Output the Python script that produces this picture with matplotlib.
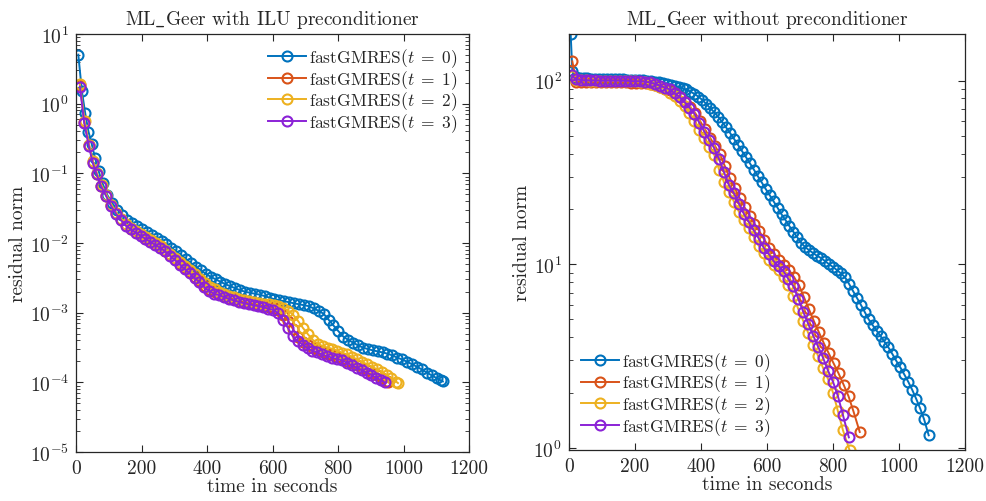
import matplotlib
matplotlib.use("Agg")
import matplotlib.pyplot as plt
from matplotlib.ticker import LogLocator, NullFormatter

plt.rcParams.update({
    "font.family": "serif",
    "font.serif": ["cmr10"],
    "mathtext.fontset": "cm",
    "axes.unicode_minus": False,
    "axes.formatter.use_mathtext": True,
    "text.color": "#262626",
    "axes.labelcolor": "#262626",
    "xtick.color": "#262626",
    "ytick.color": "#262626",
})

# ---------------- data: left panel (ILU preconditioner) ----------------
L0_t = [7, 18, 28, 38, 48, 58, 69, 81, 96, 111, 126, 141, 156, 171, 186, 201, 216, 231, 246, 261,
        276, 291, 306, 321, 336, 351, 366, 381, 396, 411, 426, 441, 456, 471, 486, 501, 516, 531,
        546, 561, 576, 591, 606, 621, 636, 651, 666, 681, 696, 711, 726, 741, 756, 771, 786, 801,
        816, 831, 846, 861, 876, 891, 906, 921, 936, 951, 966, 981, 996, 1011, 1026, 1041, 1056,
        1071, 1086, 1101, 1113, 1120]
L0_r = [5.05, 1.50, 0.73, 0.398, 0.263, 0.166, 0.108, 0.0716, 0.0484, 0.0372, 0.0302, 0.0251,
        0.0216, 0.0191, 0.0174, 0.0158, 0.0145, 0.0132, 0.0119, 0.0107, 0.00955, 0.00851, 0.00764,
        0.00676, 0.00589, 0.00516, 0.00457, 0.00407, 0.00363, 0.00327, 0.00302, 0.00278, 0.00256,
        0.00240, 0.00224, 0.00210, 0.00200, 0.00193, 0.00187, 0.00181, 0.00173, 0.00164, 0.00156,
        0.00151, 0.00146, 0.00141, 0.00136, 0.00132, 0.00128, 0.00124, 0.00115, 0.00106, 0.000964,
        0.000794, 0.000655, 0.000543, 0.000454, 0.000407, 0.000372, 0.000339, 0.000316, 0.000300,
        0.000288, 0.000278, 0.000269, 0.000258, 0.000243, 0.000226, 0.000213, 0.000197, 0.000182,
        0.000167, 0.000153, 0.000138, 0.000126, 0.000115, 0.000107, 0.000103]

L1_t = [12, 25, 40, 52, 63, 77, 92, 108, 123, 138, 153, 168, 183, 198, 213, 228, 243, 258, 273,
        288, 303, 318, 333, 348, 363, 378, 393, 408, 423, 438, 453, 468, 483, 498, 513, 528, 543,
        558, 573, 588, 603, 618, 633, 648, 663, 678, 693, 708, 723, 738, 753, 768, 783, 798, 813,
        828, 843, 858, 873, 888, 903, 918, 933, 948, 953]
L1_r = [1.86, 0.550, 0.251, 0.145, 0.0977, 0.0661, 0.0479, 0.0347, 0.0266, 0.0219, 0.0180, 0.0160,
        0.0143, 0.0129, 0.0116, 0.0106, 0.00955, 0.00871, 0.00776, 0.00668, 0.00582, 0.00507,
        0.00437, 0.00380, 0.00327, 0.00285, 0.00245, 0.00214, 0.00197, 0.00184, 0.00174, 0.00164,
        0.00155, 0.00148, 0.00141, 0.00136, 0.00132, 0.00128, 0.00124, 0.00120, 0.00116, 0.00108,
        0.000933, 0.000759, 0.000575, 0.000447, 0.000380, 0.000339, 0.000309, 0.000288, 0.000272,
        0.000257, 0.000245, 0.000232, 0.000219, 0.000204, 0.000191, 0.000176, 0.000162, 0.000150,
        0.000138, 0.000127, 0.000116, 0.000105, 0.000101]

L2_t = [12, 26, 40, 52, 64, 78, 93, 108, 123, 138, 153, 168, 183, 198, 213, 228, 243, 258, 273,
        288, 303, 318, 333, 348, 363, 378, 393, 408, 423, 438, 453, 468, 483, 498, 513, 528, 543,
        558, 573, 588, 603, 618, 633, 648, 663, 678, 693, 708, 723, 738, 753, 768, 783, 798, 813,
        828, 843, 858, 873, 888, 903, 918, 933, 948, 963, 978, 983]
L2_r = [1.91, 0.562, 0.257, 0.148, 0.100, 0.0676, 0.0490, 0.0355, 0.0272, 0.0224, 0.0186, 0.0166,
        0.0148, 0.0133, 0.0120, 0.0110, 0.0100, 0.00902, 0.00804, 0.00692, 0.00617, 0.00537,
        0.00468, 0.00407, 0.00355, 0.00309, 0.00269, 0.00234, 0.00216, 0.00200, 0.00186, 0.00176,
        0.00166, 0.00158, 0.00151, 0.00146, 0.00141, 0.00136, 0.00133, 0.00131, 0.00129, 0.00124,
        0.00117, 0.00107, 0.000933, 0.000759, 0.000603, 0.000490, 0.000407, 0.000359, 0.000331,
        0.000316, 0.000302, 0.000285, 0.000266, 0.000251, 0.000232, 0.000214, 0.000197, 0.000182,
        0.000168, 0.000155, 0.000143, 0.000127, 0.000114, 0.000102, 0.0000977]

L3_t = [12, 25, 39, 51, 63, 76, 92, 107, 122, 137, 152, 167, 182, 197, 212, 227, 242, 257, 272,
        287, 302, 317, 332, 347, 362, 377, 392, 407, 422, 437, 452, 467, 482, 497, 512, 527, 542,
        557, 572, 587, 602, 617, 632, 647, 662, 677, 692, 707, 722, 737, 752, 767, 782, 797, 812,
        827, 842, 857, 872, 887, 902, 917, 932, 942]
L3_r = [1.746, 0.536, 0.247, 0.142, 0.0968, 0.0658, 0.0472, 0.0339, 0.0263, 0.0214, 0.0177, 0.0158,
        0.0141, 0.0127, 0.0115, 0.0104, 0.00940, 0.00851, 0.00759, 0.00656, 0.00569, 0.00490,
        0.00424, 0.00367, 0.00316, 0.00274, 0.00232, 0.00203, 0.00186, 0.00178, 0.00167, 0.00158,
        0.00150, 0.00143, 0.00137, 0.00132, 0.00128, 0.00124, 0.00120, 0.00114, 0.00110, 0.000977,
        0.000794, 0.000603, 0.000457, 0.000389, 0.000347, 0.000309, 0.000284, 0.000269, 0.000251,
        0.000238, 0.000226, 0.000216, 0.000206, 0.000191, 0.000177, 0.000162, 0.000150, 0.000138,
        0.000128, 0.000117, 0.000107, 0.0000995]

# ---------------- data: right panel (no preconditioner) ----------------
R0_t = [5, 10, 20, 32, 44, 56, 68, 80, 92, 104, 116, 128, 140, 152, 164, 176, 188, 200, 212, 224,
        236, 248, 260, 272, 284, 296, 308, 320, 332, 344, 356, 368, 380, 392, 404, 416, 428, 440,
        452, 464, 476, 488, 500, 512, 524, 536, 548, 560, 572, 584, 596, 608, 620, 632, 644, 656,
        668, 680, 692, 704, 716, 728, 740, 752, 764, 776, 788, 800, 812, 824, 836, 848, 860, 872,
        884, 896, 908, 920, 932, 944, 956, 968, 980, 992, 1004, 1016, 1028, 1040, 1052, 1064, 1076,
        1090]
R0_r = [179.5, 113.2, 104.7, 103.5, 103.0, 102.8, 102.6, 102.6, 102.3, 102.3, 102.1, 102.1, 101.9,
        101.9, 101.6, 101.4, 101.2, 100.9, 100.7, 100.2, 100.0, 99.5, 98.9, 98.2, 97.3, 96.2, 95.1,
        93.5, 92.0, 90.8, 89.5, 87.1, 84.7, 81.8, 78.5, 74.5, 70.8, 67.3, 63.7, 59.6, 55.6, 51.9,
        48.2, 44.7, 41.4, 38.4, 35.5, 32.8, 30.2, 27.9, 25.7, 23.8, 22.0, 20.3, 18.7, 17.4, 16.1,
        15.0, 14.0, 13.0, 12.4, 11.9, 11.5, 11.1, 10.8, 10.4, 10.0, 9.66, 9.29, 8.91, 8.51, 7.85,
        7.18, 6.58, 6.03, 5.50, 5.01, 4.66, 4.35, 4.06, 3.78, 3.52, 3.24, 2.97, 2.74, 2.51, 2.29,
        2.07, 1.85, 1.64, 1.43, 1.17]

R1_t = [10, 22, 37, 52, 67, 82, 97, 112, 127, 142, 157, 172, 187, 202, 217, 232, 247, 262, 277,
        292, 307, 322, 337, 352, 367, 382, 397, 412, 427, 442, 457, 472, 487, 502, 517, 532, 547,
        562, 577, 592, 607, 622, 637, 652, 667, 682, 697, 712, 727, 742, 757, 772, 787, 802, 817,
        832, 847, 862, 881]
R1_r = [127.4, 98.9, 98.4, 98.2, 98.2, 98.2, 97.9, 97.9, 97.9, 97.9, 97.7, 97.7, 97.5, 97.3, 97.0,
        96.6, 95.9, 94.6, 92.7, 90.6, 88.7, 85.1, 81.3, 76.7, 71.8, 66.8, 60.3, 54.3, 49.0, 44.2,
        39.8, 34.3, 29.5, 26.0, 22.9, 20.4, 18.4, 16.6, 15.1, 13.6, 12.3, 11.4, 10.5, 9.89, 9.27,
        8.51, 7.67, 6.61, 5.69, 4.90, 4.27, 3.72, 3.27, 2.88, 2.54, 2.21, 1.91, 1.58, 1.22]

R2_t = [8, 20, 35, 50, 65, 80, 95, 110, 125, 140, 155, 170, 185, 200, 215, 230, 245, 260, 275,
        290, 305, 320, 335, 350, 365, 380, 395, 410, 425, 440, 455, 470, 485, 500, 515, 530, 545,
        560, 575, 590, 605, 620, 635, 650, 665, 680, 695, 710, 725, 740, 755, 770, 785, 800, 815,
        830, 850]
R2_r = [105.9, 101.4, 100.5, 100.2, 100.0, 100.0, 100.0, 99.8, 99.8, 99.8, 99.5, 99.5, 99.3, 99.1,
        98.6, 97.7, 96.4, 94.2, 92.0, 90.2, 86.1, 82.0, 77.6, 72.4, 67.0, 60.3, 54.0, 48.4, 43.7,
        39.4, 32.7, 27.9, 24.8, 21.9, 19.3, 17.4, 15.7, 14.1, 12.6, 11.5, 10.6, 9.89, 9.27, 8.51,
        7.67, 6.68, 5.69, 4.90, 4.22, 3.65, 3.16, 2.72, 2.37, 2.00, 1.58, 1.25, 0.973]

R3_t = [8, 20, 35, 50, 65, 80, 95, 110, 125, 140, 155, 170, 185, 200, 215, 230, 245, 260, 275,
        290, 305, 320, 335, 350, 365, 380, 395, 410, 425, 440, 455, 470, 485, 500, 515, 530, 545,
        560, 575, 590, 605, 620, 635, 650, 665, 680, 695, 710, 725, 740, 755, 770, 785, 800, 815,
        830, 848]
R3_r = [107.2, 101.9, 100.7, 100.5, 100.2, 100.2, 100.0, 100.0, 100.0, 100.0, 99.8, 99.8, 99.5,
        99.3, 99.1, 98.6, 97.7, 95.9, 93.8, 91.6, 89.7, 85.1, 81.3, 76.6, 71.3, 66.1, 58.9, 52.8,
        47.4, 42.9, 37.2, 31.6, 26.9, 24.3, 21.4, 18.8, 17.0, 15.3, 13.8, 12.3, 11.4, 10.4, 9.77,
        9.16, 8.28, 7.59, 6.46, 5.50, 4.73, 4.09, 3.55, 3.09, 2.63, 2.29, 1.91, 1.51, 1.14]

labels = ["fastGMRES($t\\;=\\;0$)", "fastGMRES($t\\;=\\;1$)",
          "fastGMRES($t\\;=\\;2$)", "fastGMRES($t\\;=\\;3$)"]
colors = ["#0072BD", "#D95319", "#EDB120", "#8B22D6"]
titles = ["ML$\\_$Geer with ILU preconditioner", "ML$\\_$Geer without preconditioner"]
xticks = [0, 200, 400, 600, 800, 1000, 1200]

left_series = [(L0_t, L0_r), (L1_t, L1_r), (L2_t, L2_r), (L3_t, L3_r)]
right_series = [(R0_t, R0_r), (R1_t, R1_r), (R2_t, R2_r), (R3_t, R3_r)]

fig = plt.figure(figsize=(9.86, 5.02), dpi=100)
axL = fig.add_axes([0.0771, 0.0976, 0.3986, 0.8327])
axR = fig.add_axes([0.5771, 0.1016, 0.4016, 0.8287])

FS = 14


def draw(ax, series, title, legloc):
    for (t, r), c, lab in zip(series, colors, labels):
        ax.plot(t, r, color=c, lw=1.4, marker="o", ms=7.2, mfc="none", mew=1.5, label=lab)
    ax.set_yscale("log")
    ax.set_xlim(0, 1200)
    ax.set_xticks(xticks)
    ax.set_xticklabels([str(v) for v in xticks])
    ax.yaxis.set_major_locator(LogLocator(base=10, numticks=20))
    ax.yaxis.set_minor_locator(LogLocator(base=10, subs=range(2, 10), numticks=20))
    ax.yaxis.set_minor_formatter(NullFormatter())
    ax.tick_params(which="both", direction="in", top=True, right=True, labelsize=FS, pad=5)
    ax.tick_params(which="major", length=5, width=0.8)
    ax.tick_params(which="minor", length=3, width=0.6)
    for s in ax.spines.values():
        s.set_color("#262626")
        s.set_linewidth(0.9)
    ax.set_title(title, fontsize=FS, pad=7)
    ax.set_xlabel("time in seconds", fontsize=FS, labelpad=0)
    ax.set_ylabel("residual norm", fontsize=FS, labelpad=2)
    leg = ax.legend(loc=legloc, frameon=False, fontsize=12.5, handlelength=2.2,
                    handletextpad=0.15, labelspacing=-0.06, borderaxespad=0.3)
    return leg


draw(axL, left_series, titles[0], "upper right")
axL.set_ylim(1e-5, 1e1)

draw(axR, right_series, titles[1], "lower left")
all_r = [v for _, r in right_series for v in r]
axR.set_ylim(min(all_r), max(all_r))

fig.savefig("out.png", dpi=100)
